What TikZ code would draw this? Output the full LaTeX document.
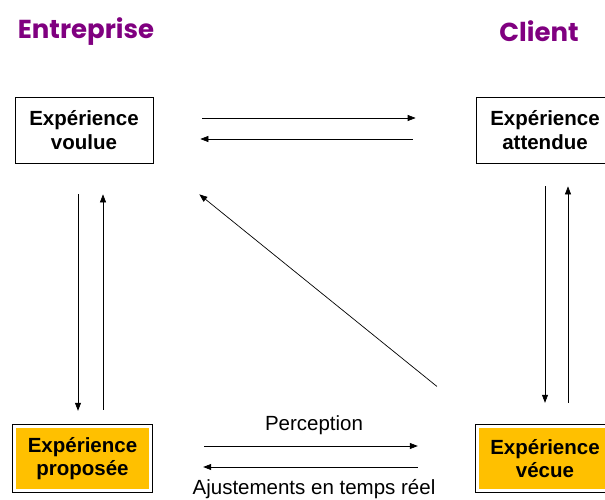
\documentclass[tikz,border=0pt]{standalone}
\usepackage{fontspec}
\setmainfont{Liberation Sans}
\newfontfamily\titlefont{Poppins}
\usetikzlibrary{arrows.meta,fit}
\definecolor{titlepurple}{HTML}{800080}
\definecolor{boxorange}{HTML}{FFC000}
\begin{document}
\begin{tikzpicture}[x=1pt,y=-1pt,
  boxtext/.style={font=\fontsize{20.5}{23.5}\selectfont\bfseries, align=center},
  whitebox/.style={boxtext, draw=black, line width=0.7pt, fill=white, minimum width=138pt, minimum height=66pt, inner sep=0pt},
  orangebox/.style={boxtext, fill=boxorange, minimum width=133pt, minimum height=61pt, inner sep=0pt},
  outerbox/.style={draw=black, line width=0.7pt, inner sep=3pt},
  titletext/.style={font=\titlefont\bfseries\fontsize{26}{30}\selectfont, text=titlepurple},
  lbl/.style={font=\fontsize{20.5}{24}\selectfont},
  arr/.style={line width=0.7pt, -{Triangle[length=8pt,width=6pt]}}
]
\useasboundingbox (0,0) rectangle (605,500);
\fill[white] (0,0) rectangle (605,500);

\node[titletext] (tEnt) at (86,32) {Entreprise};
\node[titletext] (tCli) at (539,31) {Client};

\node[whitebox] (voulue) at (84,130) {Expérience\\voulue};
\node[whitebox] (attendue) at (545,130) {Expérience\\attendue};
\node[orangebox] (prop) at (82.5,458.5) {Expérience\\proposée};
\node[outerbox, fit=(prop)] (propout) {};
\node[orangebox] (vecue) at (545,458.5) {Expérience\\vécue};
\node[outerbox, fit=(vecue)] (vecueout) {};

% top pair
\draw[arr, shorten <=49pt, shorten >=60pt] ([yshift=12pt]voulue.east) -- ([yshift=12pt]attendue.west);
\draw[arr, shorten <=63pt, shorten >=47pt] ([yshift=-9pt]attendue.west) -- ([yshift=-9pt]voulue.east);

% left pair
\draw[arr, shorten <=31pt, shorten >=17pt] ([xshift=-6pt]voulue.south) -- ([xshift=-6pt]voulue.south |- prop.north);
\draw[arr, shorten <=18pt, shorten >=31pt] ([xshift=19pt]voulue.south |- prop.north) -- ([xshift=19pt]voulue.south);

% right pair
\draw[arr, shorten <=23pt, shorten >=25pt] (attendue.south) -- (attendue.south |- vecue.north);
\draw[arr, shorten <=25pt, shorten >=23pt] ([xshift=23pt]attendue.south |- vecue.north) -- ([xshift=23pt]attendue.south);

% diagonal
\draw[arr] ([xshift=-38pt,yshift=38pt]vecueout.north west) -- ([xshift=46pt,yshift=-31pt]voulue.south east);

% bottom pair
\draw[arr, shorten <=55pt, shorten >=60.5pt] ([yshift=12.5pt]prop.east) -- ([yshift=12.5pt]vecue.west);
\draw[arr, shorten <=60.5pt, shorten >=54pt] ([yshift=-8.5pt]vecue.west) -- ([yshift=-8.5pt]prop.east);

\node[lbl] (perc) at (314,425) {Perception};
\node[lbl] (ajust) at (314,489) {Ajustements en temps réel};
\end{tikzpicture}
\end{document}
